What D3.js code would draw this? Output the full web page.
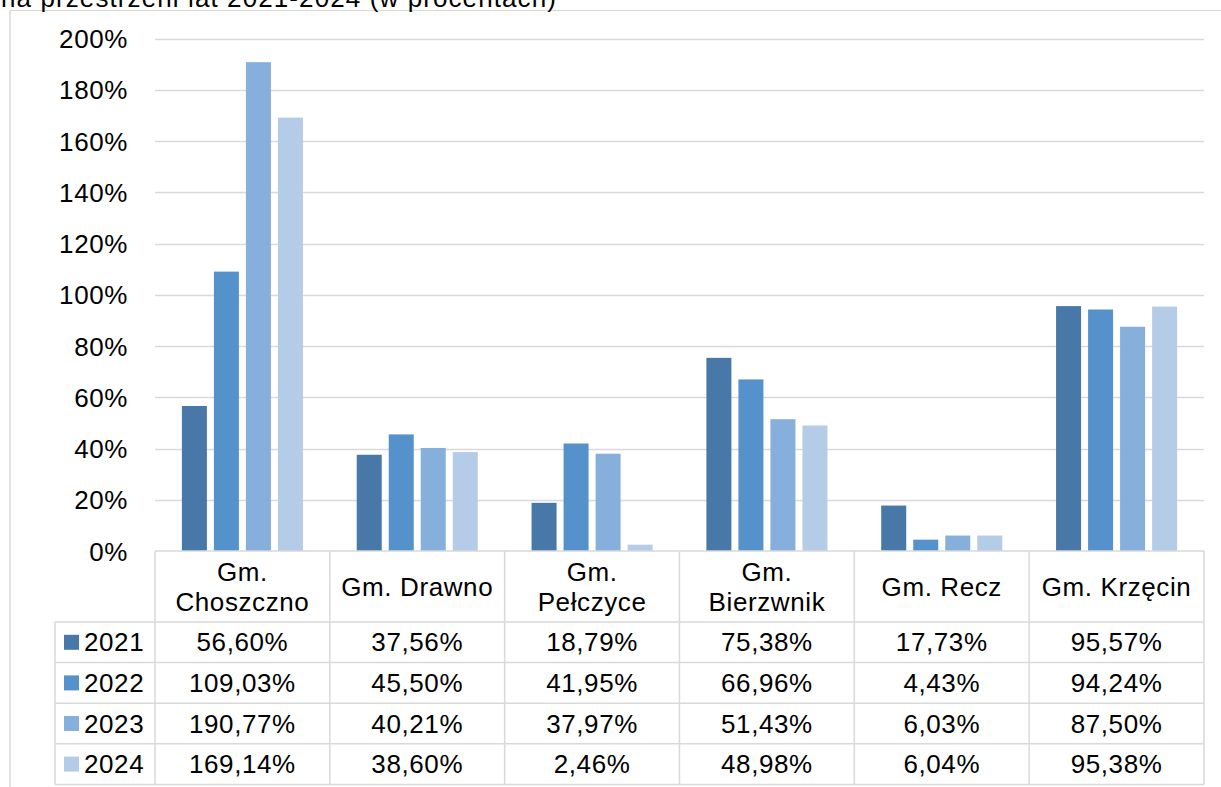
<!DOCTYPE html>
<html>
<head>
<meta charset="utf-8">
<script src="https://cdn.jsdelivr.net/npm/d3@7"></script>
<style>
  html, body { margin: 0; padding: 0; background: #ffffff; }
  svg { display: block; }
  text { font-family: "Liberation Sans", Arial, sans-serif; fill: #000; }
</style>
</head>
<body>
<svg id="chart" width="1221" height="787"></svg>
<script>
// Gminy (municipalities) shown along the x axis
const categories = ["Gm. Choszczno", "Gm. Drawno", "Gm. Pełczyce", "Gm. Bierzwnik", "Gm. Recz", "Gm. Krzęcin"];
// Years (series)
const years = ["2021", "2022", "2023", "2024"];
// Values in percent, one array per year, in category order
const values2021 = [56.60, 37.56, 18.79, 75.38, 17.73, 95.57];
const values2022 = [109.03, 45.50, 41.95, 66.96, 4.43, 94.24];
const values2023 = [190.77, 40.21, 37.97, 51.43, 6.03, 87.50];
const values2024 = [169.14, 38.60, 2.46, 48.98, 6.04, 95.38];
// Y axis ticks
const yTicks = [0, 20, 40, 60, 80, 100, 120, 140, 160, 180, 200];
const titleText = "na przestrzeni lat 2021-2024 (w procentach)";

const seriesValues = [values2021, values2022, values2023, values2024];
const colors = ["#4878a8", "#5592cb", "#86afdc", "#b5cce9"];
const gridColor = "#d9d9d9";
const fontSize = 26;
const letterSpacing = 0.6;

const svg = d3.select("#chart");

// Polish number format: decimal comma
const pl = d3.formatLocale({ decimal: ",", thousands: " ", grouping: [3], currency: ["", " zł"] });
const fmtCell = v => pl.format(".2f")(v) + "%";

const plot = { left: 155, right: 1204, top: 38.5, bottom: 551 };
const tableRows = { header: 71, row: 40.6 };
const legendLeft = 55;

const x0 = d3.scaleBand().domain(categories).range([plot.left, plot.right]).paddingInner(0).paddingOuter(0);
const x1 = d3.scaleBand().domain(years).range([0, x0.bandwidth()]).paddingInner(0.219).paddingOuter(0.84);
const y = d3.scaleLinear().domain([0, 200]).range([plot.bottom, plot.top]);

// Outer chart frame (top and left edges visible)
svg.append("line").attr("x1", 10).attr("x2", 1221).attr("y1", 10.5).attr("y2", 10.5)
  .attr("stroke", gridColor).attr("stroke-width", 1.2);
svg.append("line").attr("x1", 10).attr("x2", 10).attr("y1", 10.5).attr("y2", 787)
  .attr("stroke", gridColor).attr("stroke-width", 1.5);

// Title line (continues above the top edge of the page)
svg.append("text").attr("x", 1).attr("y", 6.5)
  .attr("font-size", fontSize).attr("letter-spacing", 1.1)
  .text(titleText);

// Horizontal gridlines
svg.append("g").selectAll("line").data(yTicks.filter(t => t > 0)).join("line")
  .attr("x1", plot.left).attr("x2", plot.right)
  .attr("y1", d => Math.round(y(d)) + 0.5).attr("y2", d => Math.round(y(d)) + 0.5)
  .attr("stroke", gridColor).attr("stroke-width", 1.3);

// Y axis labels
const yAxis = d3.axisLeft(y).tickValues(yTicks).tickFormat(d => d + "%").tickSize(0).tickPadding(0);
const yG = svg.append("g").attr("transform", `translate(128,0)`).call(yAxis);
yG.select(".domain").remove();
yG.selectAll("text").attr("font-size", fontSize).attr("letter-spacing", letterSpacing)
  .attr("font-family", "Liberation Sans, Arial, sans-serif").attr("fill", "#000")
  .attr("dy", "0.35em");

// Bars
const groups = svg.append("g").selectAll("g").data(categories).join("g")
  .attr("transform", d => `translate(${x0(d)},0)`);
groups.selectAll("rect")
  .data((c, ci) => years.map((yr, si) => ({ yr, si, v: seriesValues[si][ci] })))
  .join("rect")
  .attr("x", d => x1(d.yr))
  .attr("width", x1.bandwidth())
  .attr("y", d => y(d.v))
  .attr("height", d => y(0) - y(d.v))
  .attr("fill", d => colors[d.si]);

// Data table below the plot
const headerBottom = plot.bottom + tableRows.header;
const rowY = i => headerBottom + i * tableRows.row;
const tableBottom = rowY(years.length);
const tbl = svg.append("g").attr("stroke", gridColor).attr("stroke-width", 1.5).attr("fill", "none");

// Horizontal table lines
tbl.append("line").attr("x1", plot.left).attr("x2", plot.right).attr("y1", plot.bottom).attr("y2", plot.bottom);
d3.range(years.length + 1).forEach(i => {
  tbl.append("line").attr("x1", legendLeft).attr("x2", plot.right).attr("y1", rowY(i)).attr("y2", rowY(i));
});
// Vertical table lines
tbl.append("line").attr("x1", legendLeft).attr("x2", legendLeft).attr("y1", headerBottom).attr("y2", tableBottom);
categories.forEach(c => {
  tbl.append("line").attr("x1", x0(c)).attr("x2", x0(c)).attr("y1", plot.bottom).attr("y2", tableBottom);
});
tbl.append("line").attr("x1", plot.right).attr("x2", plot.right).attr("y1", plot.bottom).attr("y2", tableBottom);

// Category header labels (wrapped when too wide for the cell)
const headerG = svg.append("g");
categories.forEach(c => {
  const cx = x0(c) + x0.bandwidth() / 2;
  const cy = plot.bottom + tableRows.header / 2;
  const t = headerG.append("text").attr("x", cx).attr("y", cy)
    .attr("text-anchor", "middle").attr("dy", "0.35em")
    .attr("font-size", fontSize).attr("letter-spacing", letterSpacing).text(c);
  if (t.node().getComputedTextLength() > 152) {
    const words = c.split(" ");
    const lines = [words[0], words.slice(1).join(" ")];
    t.text(null);
    lines.forEach((ln, i) => {
      t.append("tspan").attr("x", cx).attr("y", cy + (i - 0.5) * 30).attr("dy", "0.35em").text(ln);
    });
  }
});

// Legend keys and values
years.forEach((yr, si) => {
  const cy = rowY(si) + tableRows.row / 2;
  svg.append("rect").attr("x", 64).attr("y", cy - 7.5).attr("width", 15).attr("height", 15)
    .attr("fill", colors[si]);
  svg.append("text").attr("x", 84).attr("y", cy).attr("dy", "0.35em")
    .attr("font-size", fontSize).attr("letter-spacing", letterSpacing).text(yr);
  categories.forEach((c, ci) => {
    svg.append("text").attr("x", x0(c) + x0.bandwidth() / 2).attr("y", cy).attr("dy", "0.35em")
      .attr("text-anchor", "middle")
      .attr("font-size", fontSize).attr("letter-spacing", letterSpacing)
      .text(fmtCell(seriesValues[si][ci]));
  });
});
</script>
</body>
</html>
